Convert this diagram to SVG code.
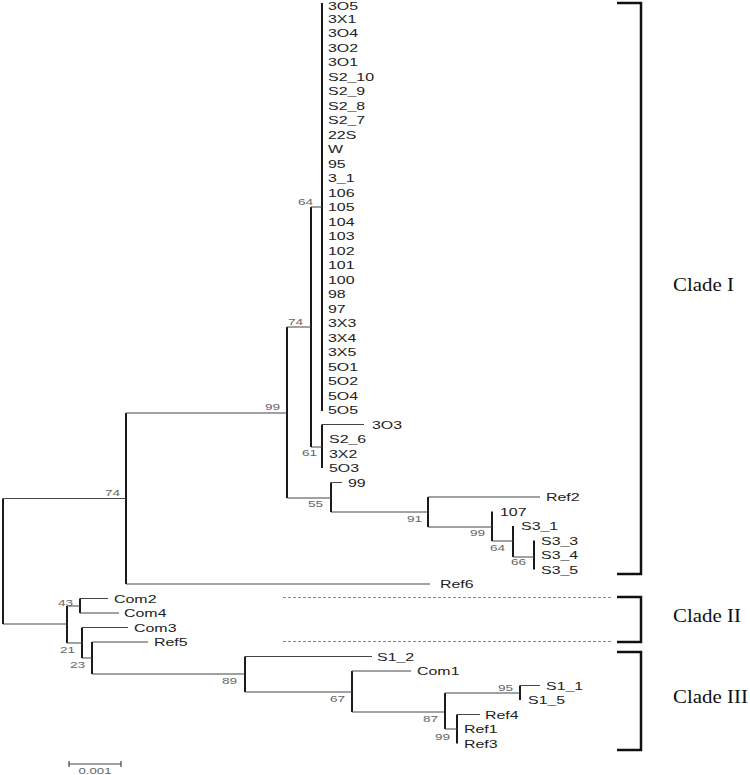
<svg xmlns="http://www.w3.org/2000/svg" width="750" height="775" viewBox="0 0 750 775">
<style>
.h{stroke:#444;stroke-width:1.2;fill:none}
.v{stroke:#1a1a1a;stroke-width:2;fill:none}
.t{font-family:"Liberation Sans",Arial,sans-serif;font-size:11px;fill:#222}
.b{font-family:"Liberation Sans",Arial,sans-serif;font-size:8.5px;fill:#666}
.c{font-family:"Liberation Serif","Times New Roman",serif;font-size:19px;fill:#111}
.br{stroke:#111;stroke-width:2.5;fill:none}
.d{stroke:#888;stroke-width:1;stroke-dasharray:3,2;fill:none}
</style>
<rect width="750" height="775" fill="#fff"/>
<g id="connectors">
<path class="v" d="M322 3V411M311 207V447M322 424.5V468M287 327V498M331 482.5V512M428 497V527M492 511.5V541M513 526V557M534 540.5V569.5M126 413V584M3 498.5V624M67 606V643M80 598.5V613M82 627.5V658M92 642V674M245 656.5V692M352 671V712M445 693V729M520 685.5V700M457 714.5V743.5"/>
<path class="h" d="M311 207H322M287 327H311M311 447H322M322 424.5H364M126 413H287M287 498H331M331 482.5H342M331 512H428M428 497H540M428 527H492M492 541H513M513 557H534M126 584H430M3 498.5H126M3 624H67M67 606H80M80 598.5H108M80 613H119M67 643H82M82 627.5H128M82 658H92M92 642H148M92 674H245M245 656.5H372M245 692H352M352 671H411M352 712H445M445 693H520M520 685.5H540M445 729H457M457 714.5H480"/>
<path class="d" d="M283 597.5H613M283 641.5H613"/>
</g>
<g id="leaves">
<g id="n-3O5"><text class="t" transform="matrix(1.45 0 0 1 328 9.5)">3O5</text></g>
<g id="n-3X1"><text class="t" transform="matrix(1.45 0 0 1 328 22.5)">3X1</text></g>
<g id="n-3O4"><text class="t" transform="matrix(1.45 0 0 1 328 37)">3O4</text></g>
<g id="n-3O2"><text class="t" transform="matrix(1.45 0 0 1 328 51.5)">3O2</text></g>
<g id="n-3O1"><text class="t" transform="matrix(1.45 0 0 1 328 66)">3O1</text></g>
<g id="n-S2_10"><text class="t" transform="matrix(1.45 0 0 1 328 80.5)">S2_10</text></g>
<g id="n-S2_9"><text class="t" transform="matrix(1.45 0 0 1 328 95)">S2_9</text></g>
<g id="n-S2_8"><text class="t" transform="matrix(1.45 0 0 1 328 109.5)">S2_8</text></g>
<g id="n-S2_7"><text class="t" transform="matrix(1.45 0 0 1 328 124)">S2_7</text></g>
<g id="n-22S"><text class="t" transform="matrix(1.45 0 0 1 328 138.5)">22S</text></g>
<g id="n-W"><text class="t" transform="matrix(1.45 0 0 1 328 153)">W</text></g>
<g id="n-95"><text class="t" transform="matrix(1.45 0 0 1 328 167.5)">95</text></g>
<g id="n-3_1"><text class="t" transform="matrix(1.45 0 0 1 328 182)">3_1</text></g>
<g id="n-106"><text class="t" transform="matrix(1.45 0 0 1 328 196.5)">106</text></g>
<g id="n-105"><text class="t" transform="matrix(1.45 0 0 1 328 211)">105</text></g>
<g id="n-104"><text class="t" transform="matrix(1.45 0 0 1 328 225.5)">104</text></g>
<g id="n-103"><text class="t" transform="matrix(1.45 0 0 1 328 240)">103</text></g>
<g id="n-102"><text class="t" transform="matrix(1.45 0 0 1 328 254.5)">102</text></g>
<g id="n-101"><text class="t" transform="matrix(1.45 0 0 1 328 269)">101</text></g>
<g id="n-100"><text class="t" transform="matrix(1.45 0 0 1 328 283.5)">100</text></g>
<g id="n-98"><text class="t" transform="matrix(1.45 0 0 1 328 298)">98</text></g>
<g id="n-97"><text class="t" transform="matrix(1.45 0 0 1 328 312.5)">97</text></g>
<g id="n-3X3"><text class="t" transform="matrix(1.45 0 0 1 328 327)">3X3</text></g>
<g id="n-3X4"><text class="t" transform="matrix(1.45 0 0 1 328 341.5)">3X4</text></g>
<g id="n-3X5"><text class="t" transform="matrix(1.45 0 0 1 328 356)">3X5</text></g>
<g id="n-5O1"><text class="t" transform="matrix(1.45 0 0 1 328 370.5)">5O1</text></g>
<g id="n-5O2"><text class="t" transform="matrix(1.45 0 0 1 328 385)">5O2</text></g>
<g id="n-5O4"><text class="t" transform="matrix(1.45 0 0 1 328 399.5)">5O4</text></g>
<g id="n-5O5"><text class="t" transform="matrix(1.45 0 0 1 328 414)">5O5</text></g>
<g id="n-3O3"><text class="t" transform="matrix(1.45 0 0 1 372 428.5)">3O3</text></g>
<g id="n-S2_6"><text class="t" transform="matrix(1.45 0 0 1 329 443)">S2_6</text></g>
<g id="n-3X2"><text class="t" transform="matrix(1.45 0 0 1 329 457.5)">3X2</text></g>
<g id="n-5O3"><text class="t" transform="matrix(1.45 0 0 1 329 472)">5O3</text></g>
<g id="n-99"><text class="t" transform="matrix(1.45 0 0 1 348 486.5)">99</text></g>
<g id="n-Ref2"><text class="t" transform="matrix(1.45 0 0 1 546 501)">Ref2</text></g>
<g id="n-107"><text class="t" transform="matrix(1.45 0 0 1 500 515.5)">107</text></g>
<g id="n-S3_1"><text class="t" transform="matrix(1.45 0 0 1 521 530)">S3_1</text></g>
<g id="n-S3_3"><text class="t" transform="matrix(1.45 0 0 1 541 544.5)">S3_3</text></g>
<g id="n-S3_4"><text class="t" transform="matrix(1.45 0 0 1 541 559)">S3_4</text></g>
<g id="n-S3_5"><text class="t" transform="matrix(1.45 0 0 1 541 573.5)">S3_5</text></g>
<g id="n-Ref6"><text class="t" transform="matrix(1.45 0 0 1 440 588)">Ref6</text></g>
<g id="n-Com2"><text class="t" transform="matrix(1.45 0 0 1 114 602.5)">Com2</text></g>
<g id="n-Com4"><text class="t" transform="matrix(1.45 0 0 1 124 617)">Com4</text></g>
<g id="n-Com3"><text class="t" transform="matrix(1.45 0 0 1 134 631.5)">Com3</text></g>
<g id="n-Ref5"><text class="t" transform="matrix(1.45 0 0 1 154 646)">Ref5</text></g>
<g id="n-S1_2"><text class="t" transform="matrix(1.45 0 0 1 377 660.5)">S1_2</text></g>
<g id="n-Com1"><text class="t" transform="matrix(1.45 0 0 1 417 675)">Com1</text></g>
<g id="n-S1_1"><text class="t" transform="matrix(1.45 0 0 1 546 689.5)">S1_1</text></g>
<g id="n-S1_5"><text class="t" transform="matrix(1.45 0 0 1 528 704)">S1_5</text></g>
<g id="n-Ref4"><text class="t" transform="matrix(1.45 0 0 1 485 718.5)">Ref4</text></g>
<g id="n-Ref1"><text class="t" transform="matrix(1.45 0 0 1 464 733)">Ref1</text></g>
<g id="n-Ref3"><text class="t" transform="matrix(1.45 0 0 1 464 747.5)">Ref3</text></g>
</g>
<g id="bootstrap">
<text class="b" transform="matrix(1.6 0 0 1 298 205)">64</text>
<text class="b" transform="matrix(1.6 0 0 1 288 325)">74</text>
<text class="b" transform="matrix(1.6 0 0 1 265 410)">99</text>
<text class="b" transform="matrix(1.6 0 0 1 302 456)">61</text>
<text class="b" transform="matrix(1.6 0 0 1 308 507)">55</text>
<text class="b" transform="matrix(1.6 0 0 1 407 522)">91</text>
<text class="b" transform="matrix(1.6 0 0 1 470 536)">99</text>
<text class="b" transform="matrix(1.6 0 0 1 490 551)">64</text>
<text class="b" transform="matrix(1.6 0 0 1 511 565)">66</text>
<text class="b" transform="matrix(1.6 0 0 1 105 496)">74</text>
<text class="b" transform="matrix(1.6 0 0 1 58 606)">43</text>
<text class="b" transform="matrix(1.6 0 0 1 60 653)">21</text>
<text class="b" transform="matrix(1.6 0 0 1 70 668)">23</text>
<text class="b" transform="matrix(1.6 0 0 1 222 684)">89</text>
<text class="b" transform="matrix(1.6 0 0 1 330 702)">67</text>
<text class="b" transform="matrix(1.6 0 0 1 423 722)">87</text>
<text class="b" transform="matrix(1.6 0 0 1 498 691)">95</text>
<text class="b" transform="matrix(1.6 0 0 1 435 740)">99</text>
</g>
<g id="clade-I">
<path class="br" d="M617 3H641V574H617"/>
<text class="c" transform="matrix(1.1 0 0 1 673 291)">Clade I</text>
</g>
<g id="clade-II">
<path class="br" d="M617 597H641V642H617"/>
<text class="c" transform="matrix(1.1 0 0 1 673 622)">Clade II</text>
</g>
<g id="clade-III">
<path class="br" d="M617 652H641V750H617"/>
<text class="c" transform="matrix(1.1 0 0 1 673 703)">Clade III</text>
</g>
<g id="scale-bar">
<path class="h" d="M69 764H121M69 761V767M121 761V767"/>
<text class="b" transform="matrix(1.55 0 0 1 95 774)" text-anchor="middle" font-size="8">0.001</text>
</g>
</svg>
